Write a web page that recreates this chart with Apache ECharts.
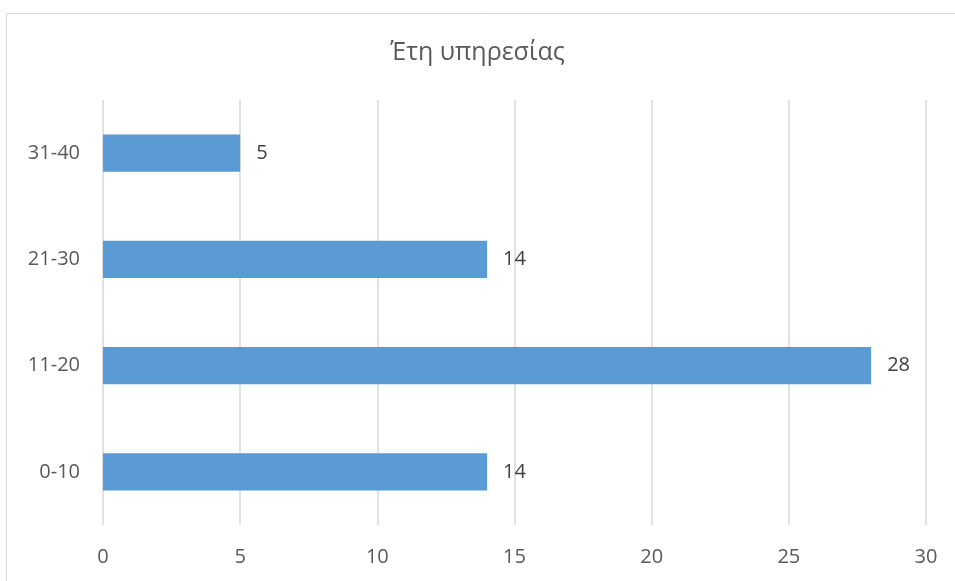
<!DOCTYPE html>
<html><head><meta charset="utf-8">
<script src="https://cdn.jsdelivr.net/npm/echarts@6/dist/echarts.min.js"></script>
<style>html,body{margin:0;padding:0;background:#fff}#c{width:955px;height:581px}</style>
</head><body><div id="c"></div>
<script>
const title = 'Έτη υπηρεσίας';
const categories = ['0-10', '11-20', '21-30', '31-40'];
const values = [14, 28, 14, 5];
const xTicks = [0, 5, 10, 15, 20, 25, 30];

const chart = echarts.init(document.getElementById('c'), null, {renderer: 'canvas'});
const font = '"Open Sans", "Noto Sans", sans-serif';
chart.setOption({
  animation: false,
  backgroundColor: '#fff',
  graphic: [{type: 'rect', left: 4, top: 11, shape: {width: 960, height: 600}, style: {fill: 'none', stroke: '#d9d9d9', lineWidth: 1}, silent: true}],
  title: {text: title, left: 'center', top: 35, textStyle: {fontFamily: font, fontSize: 25, fontWeight: 'normal', color: '#595959'}},
  grid: {left: 103, right: 29, top: 100, bottom: 56},
  xAxis: {type: 'value', min: xTicks[0], max: xTicks[xTicks.length - 1], interval: 5,
    axisLine: {show: false}, axisTick: {show: false},
    splitLine: {lineStyle: {color: '#d9d9d9', width: 1.5}},
    axisLabel: {fontFamily: font, fontSize: 20, color: '#595959', margin: 22}},
  yAxis: {type: 'category', data: categories,
    axisLine: {show: false}, axisTick: {show: false},
    axisLabel: {fontFamily: font, fontSize: 20, color: '#595959', margin: 23}},
  series: [{type: 'bar', data: values, barCategoryGap: '65%',
    itemStyle: {color: '#5B9BD5'},
    label: {show: true, position: 'right', distance: 16, fontFamily: font, fontSize: 20, color: '#404040'}}]
});
</script></body></html>
